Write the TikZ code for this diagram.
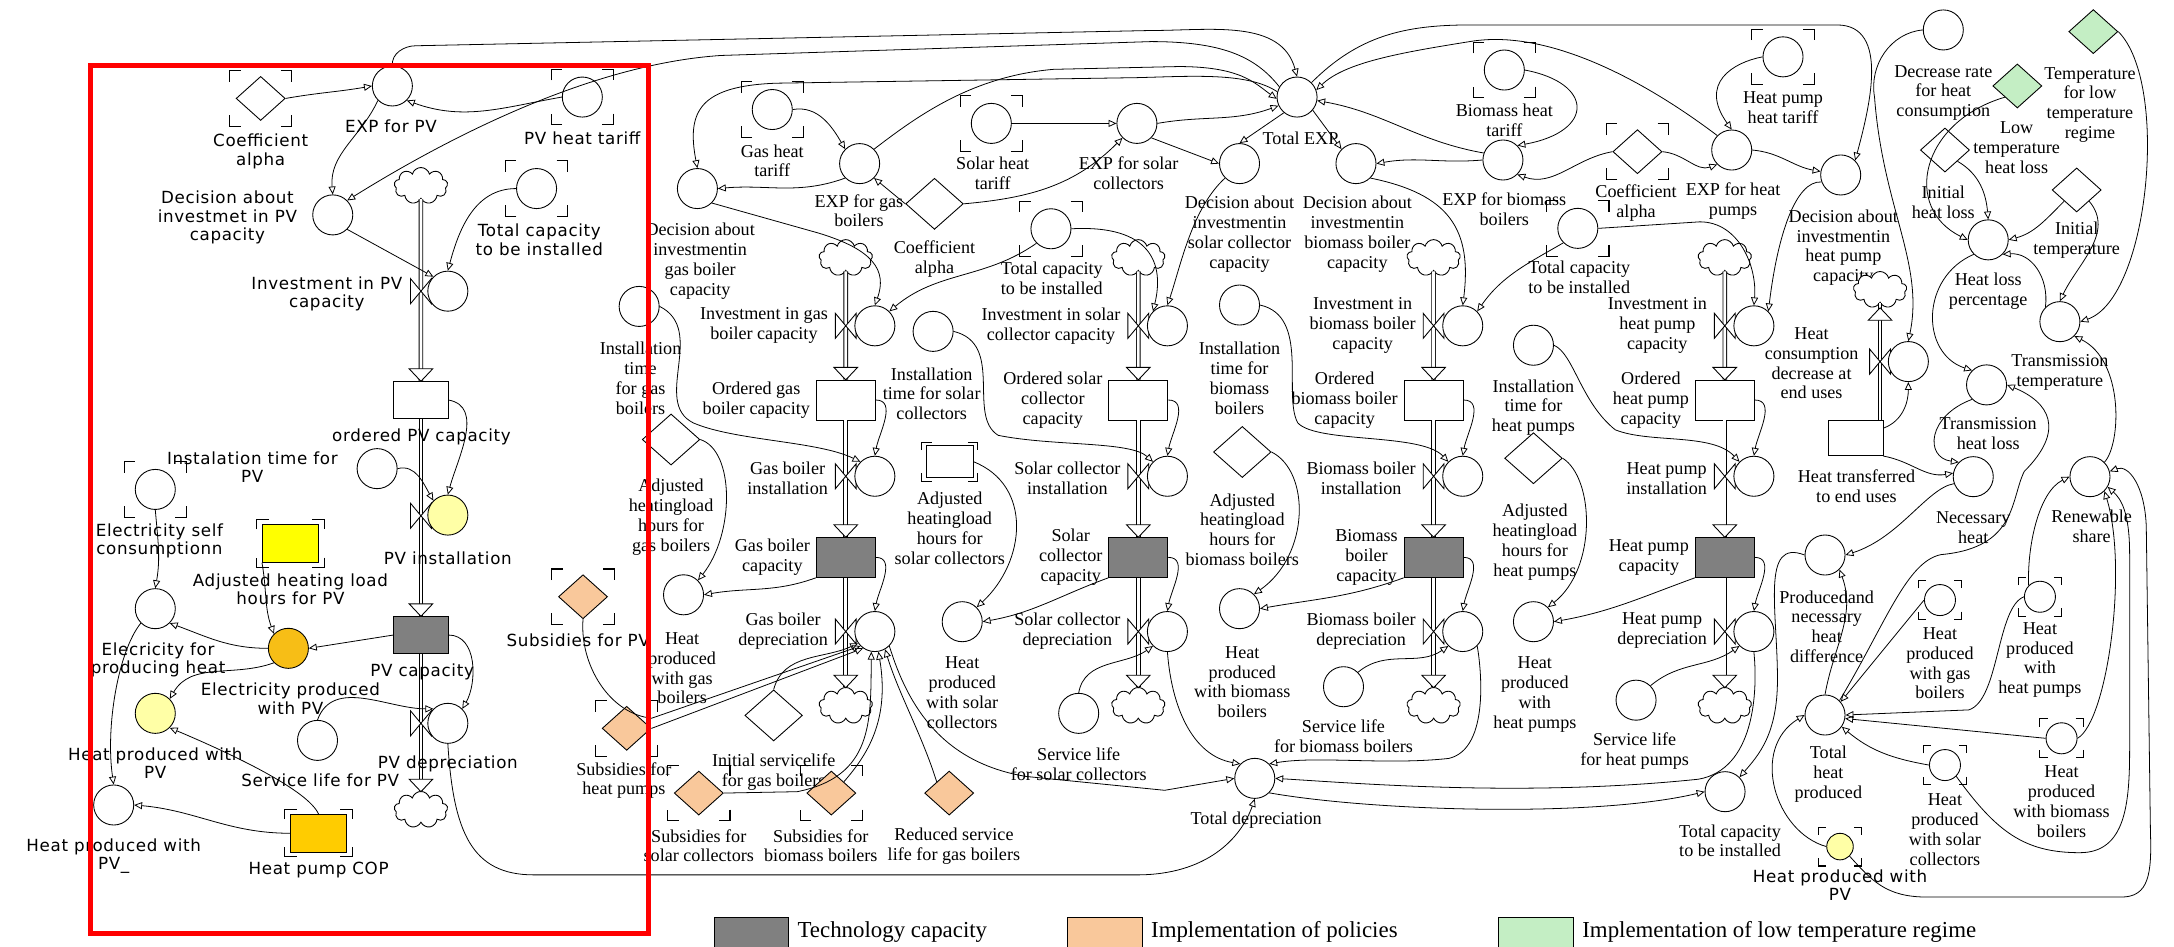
\documentclass[tikz,border=0pt]{standalone}
\usepackage{fontspec}
\setmainfont{Liberation Serif}
\newfontfamily\pvfam[LetterSpace=4]{DejaVu Sans}
\usetikzlibrary{shapes.geometric,shapes.symbols,arrows.meta,positioning}
\definecolor{capgray}{HTML}{808080}
\definecolor{polcol}{HTML}{F9C89B}
\definecolor{lowcol}{HTML}{C4EEC4}
\definecolor{yel}{HTML}{FFFF00}
\definecolor{orng}{HTML}{F7BE16}
\definecolor{copcol}{HTML}{FFCC00}
\definecolor{lyel}{HTML}{FFFFA6}
\definecolor{boxred}{HTML}{FF0000}
\newcommand\lblfont{\fontsize{10.3}{11.3}\selectfont}
\newcommand\pvlfont{\pvfam\fontsize{9.5}{10.6}\selectfont}
\tikzset{
  aux/.style={circle,draw,line width=0.5pt,minimum size=0.8cm,inner sep=0pt,fill=white},
  auxs/.style={aux,minimum size=0.62cm},
  lvl/.style={rectangle,draw,line width=0.5pt,minimum width=1.18cm,minimum height=0.8cm,inner sep=0pt,fill=white},
  lvlpv/.style={lvl,minimum width=1.08cm,minimum height=0.75cm},
  sq/.style={rectangle,draw,line width=0.5pt,minimum width=1.12cm,minimum height=0.75cm,inner sep=0pt},
  cst/.style={diamond,draw,line width=0.5pt,minimum width=1.15cm,minimum height=1.02cm,inner sep=0pt,fill=white},
  csts/.style={cst,minimum width=0.98cm,minimum height=0.88cm},
  src/.style={cloud,draw,line width=0.5pt,cloud puffs=9,cloud ignores aspect,minimum width=1.07cm,minimum height=0.73cm,inner sep=0pt,fill=white},
  lk/.style={-{Triangle[open,length=4.5pt,width=4pt]},line width=0.45pt},
  pipe/.style={double,double distance=1.6pt,line width=0.5pt},
  lbl/.style={font=\lblfont,align=center,inner sep=0.5pt},
  pvl/.style={font=\pvlfont,align=center,inner sep=0.5pt},
  brk/.pic={\draw[line width=0.6pt] (-22.5,-12)--(-22.5,-20)--(-14.5,-20) (14.5,-20)--(22.5,-20)--(22.5,-12)
    (22.5,12)--(22.5,20)--(14.5,20) (-14.5,20)--(-22.5,20)--(-22.5,12);},
  vlv/.pic={\draw[line width=0.5pt,fill=white] (-7.5,-9)--(7.5,9)--(7.5,-9)--(-7.5,9)--cycle;},
  flw/.pic={\draw[line width=0.5pt,fill=white] (-8.5,-9)--(8.5,-9)--(0,0)--cycle;}
}
\begin{document}
\begin{tikzpicture}[x=0.0277cm,y=-0.0277cm]
\useasboundingbox (0,0) rectangle (1568,683);
% PV part
\node[csts] (coefA) at (188,71) {}; \pic at (coefA) {brk};
\node[pvl] (tcoefA) at (188,109) {Coefficient\\alpha};
\node[aux] (expPV) at (283,62) {};
\node[pvl] (texpPV) at (282,91) {EXP for PV};
\node[aux] (pvTar) at (420,70) {}; \pic at (pvTar) {brk};
\node[pvl] (tpvTar) at (420,100) {PV heat tariff};
\node[aux] (decPV) at (240,155) {};
\node[pvl] (tdecPV) at (164,157) {Decision about\\investmet in PV\\capacity};
\node[src] (ctPV) at (303.6,134) {};
\node[aux] (totCapPV) at (387,136) {}; \pic at (totCapPV) {brk};
\node[pvl] (ttotCapPV) at (389,173) {Total capacity\\to be installed};
\node[lvlpv] (ordPV) at (303.6,288.5) {};
\node[lvlpv,fill=capgray] (capPV) at (303.6,458) {};
\node[src] (cbPV) at (303.6,584) {};
\draw[pipe] (ctPV.south) -- (ordPV.north);
\draw[pipe] (ordPV.south) -- (capPV.north);
\draw[pipe] (capPV.south) -- (cbPV.north);
\pic at (303.6,275) {flw}; \pic at (303.6,444.5) {flw}; \pic at (303.6,571) {flw};
\pic at (303.6,210) {vlv}; \pic at (303.6,372) {vlv}; \pic at (303.6,521.7) {vlv};
\node[aux] (invPV) at (323,210) {};
\node[pvl,anchor=east] (tinvPV) at (291,212) {Investment in PV\\capacity};
\node[pvl] (tordPV) at (304,315) {ordered PV capacity};
\node[aux] (itPV) at (272,338) {};
\node[pvl] (titPV) at (182,337) {Instalation time for\\PV};
\node[aux] (escPV) at (112,353) {}; \pic at (escPV) {brk};
\node[pvl] (tescPV) at (115,390) {Electricity self\\consumptionn};
\node[aux,fill=lyel] (insPV) at (323,371.5) {};
\node[pvl] (tinsPV) at (323,403) {PV installation};
\node[sq,fill=yel] (adjPV) at (209.5,392) {}; \pic[xscale=1.08,yscale=0.85] at (adjPV) {brk};
\node[pvl] (tadjPV) at (209.5,425) {Adjusted heating load\\hours for PV};
\node[aux] (efph) at (112,439) {};
\node[pvl] (tefph) at (114,476) {Elecricity for\\producing heat};
\node[aux,fill=orng] (elPV) at (208,467.6) {};
\node[pvl] (telPV) at (209.5,503.7) {Electricity produced\\with PV};
\node[pvl] (tcapPV) at (304.5,484.5) {PV capacity};
\node[aux,fill=lyel] (hpPV) at (112,514.5) {};
\node[pvl] (thpPV) at (112,550.5) {Heat produced with\\PV};
\node[aux] (depPV) at (323,521.7) {};
\node[pvl] (tdepPV) at (323,551) {PV depreciation};
\node[aux] (slPV) at (229,534) {};
\node[pvl] (tslPV) at (231,563) {Service life for PV};
\node[aux] (hpPVu) at (82,580.6) {};
\node[pvl] (thpPVu) at (82,617.5) {Heat produced with\\PV\_};
\node[sq,fill=copcol] (cop) at (229.8,601) {}; \pic[xscale=1.08,yscale=0.85] at (cop) {brk};
\node[pvl] (tcop) at (229.8,627.5) {Heat pump COP};
\node[csts,fill=polcol] (subsPV) at (420.5,430.4) {}; \pic at (subsPV) {brk};
\node[pvl] (tsubsPV) at (417,461.6) {Subsidies for PV};
\node[csts,fill=polcol] (subsHP) at (452,525.3) {}; \pic at (subsHP) {brk};
\node[lbl] (tsubsHP) at (450,563) {Subsidies for\\heat pumps};
% gas and solar part
\node[aux] (tarG) at (557,79) {}; \pic at (tarG) {brk};
\node[lbl] (ttarG) at (557,116) {Gas heat\\tariff};
\node[aux] (expG) at (620,118) {};
\node[lbl] (texpG) at (619.5,152) {EXP for gas\\boilers};
\node[aux] (decG) at (503,136) {};
\node[lbl] (tdecG) at (505,188.5) {Decision about\\investmentin\\gas boiler\\capacity};
\node[cst] (alphaA) at (674,147) {};
\node[lbl] (talphaA) at (674,187) {Coefficient\\alpha};
\node[aux] (tarS) at (715,89) {}; \pic at (tarS) {brk};
\node[lbl] (ttarS) at (716,125) {Solar heat\\tariff};
\node[aux] (expS) at (820,89) {};
\node[lbl] (texpS) at (814,125) {EXP for solar\\collectors};
\node[aux] (itG) at (461,221) {};
\node[lbl] (titG) at (462,273) {Installation\\time\\for gas\\boilers};
\node[aux] (totCapA) at (758,165) {}; \pic at (totCapA) {brk};
\node[lbl] (ttotCapA) at (758.6,201) {Total capacity\\to be installed};
\node[aux] (itS) at (673,239) {};
\node[lbl] (titS) at (672,284) {Installation\\time for solar\\collectors};
\node[cst] (adjG) at (484,317) {};
\node[lbl] (tadjG) at (484,373) {Adjusted\\heatingload\\hours for\\gas boilers};
\node[sq,fill=white,minimum width=0.93cm,minimum height=0.63cm] (adjS) at (685,333) {}; \pic[xscale=0.9,yscale=0.7] at (adjS) {brk};
\node[lbl] (tadjS) at (685,381) {Adjusted\\heatingload\\hours for\\solar collectors};
\node[aux] (hpG) at (493,429) {};
\node[lbl] (thpG) at (492,482) {Heat\\produced\\with gas\\boilers};
\node[aux] (hpS) at (694,448.4) {};
\node[lbl] (thpS) at (694,499.5) {Heat\\produced\\with solar\\collectors};
\node[cst] (islG) at (558,516) {};
\node[lbl] (tislG) at (558,557) {Initial servicelife\\for gas boilers};
\node[aux] (slS) at (778,514.5) {};
\node[lbl] (tslS) at (778,551) {Service life\\for solar collectors};
\node[csts,fill=polcol] (subsS) at (504,572) {}; \pic at (subsS) {brk};
\node[lbl] (tsubsS) at (504,610) {Subsidies for\\solar collectors};
\node[csts,fill=polcol] (subsB) at (599.6,572) {}; \pic at (subsB) {brk};
\node[lbl] (tsubsB) at (592,610) {Subsidies for\\biomass boilers};
\node[csts,fill=polcol] (redG) at (684.6,572) {};
\node[lbl] (tredG) at (688,610) {Reduced service\\life for gas boilers};
% biomass and heat pump part
\node[aux] (totEXP) at (935.5,70) {};
\node[lbl] (ttotEXP) at (938,100) {Total EXP};
\node[aux] (decS) at (894,118) {};
\node[lbl] (tdecS) at (894,169) {Decision about\\investmentin\\solar collector\\capacity};
\node[aux] (decB) at (978,118) {};
\node[lbl] (tdecB) at (979,169) {Decision about\\investmentin\\biomass boiler\\capacity};
\node[aux] (tarB) at (1085,50.5) {}; \pic at (tarB) {brk};
\node[lbl] (ttarB) at (1085,87) {Biomass heat\\tariff};
\node[aux] (expB) at (1084,115.4) {};
\node[lbl] (texpB) at (1085,151) {EXP for biomass\\boilers};
\node[csts] (alphaB) at (1181,109.4) {}; \pic at (alphaB) {brk};
\node[lbl] (talphaB) at (1180,146.6) {Coefficient\\alpha};
\node[aux] (totCapB) at (1138,164.7) {}; \pic at (totCapB) {brk};
\node[lbl] (ttotCapB) at (1139,200) {Total capacity\\to be installed};
\node[aux] (itB) at (894,220) {};
\node[lbl] (titB) at (894,273) {Installation\\time for\\biomass\\boilers};
\node[aux] (itH) at (1106,249) {};
\node[lbl] (titH) at (1106,294) {Installation\\time for\\heat pumps};
\node[cst] (adjB) at (896,326) {};
\node[lbl] (tadjB) at (896,382) {Adjusted\\heatingload\\hours for\\biomass boilers};
\node[cst] (adjH) at (1106,330.5) {};
\node[lbl] (tadjH) at (1107,391) {Adjusted\\heatingload\\hours for\\heat pumps};
\node[aux] (hpB) at (894,439) {};
\node[lbl] (thpB) at (896,492) {Heat\\produced\\with biomass\\boilers};
\node[aux] (hpH) at (1106,448.4) {};
\node[lbl] (thpH) at (1107,501) {Heat\\produced\\with\\heat pumps};
\node[aux] (slB) at (969,495.3) {};
\node[lbl] (tslB) at (969,531) {Service life\\for biomass boilers};
\node[aux] (slH) at (1180,505) {};
\node[lbl] (tslH) at (1179,542) {Service life\\for heat pumps};
\node[aux] (totDep) at (905,561.4) {};
\node[lbl] (ttotDep) at (906,591.4) {Total depreciation};
% stock and flow columns
\foreach \c/\x/\h/\la/\lb/\lc/\ld/\le in {
  gas/610/hpG/{Investment in gas\\boiler capacity}/{Ordered gas\\boiler capacity}/{Gas boiler\\installation}/{Gas boiler\\capacity}/{Gas boiler\\depreciation},
  sol/821/hpS/{Investment in solar\\collector capacity}/{Ordered solar\\collector\\capacity}/{Solar collector\\installation}/{Solar\\collector\\capacity}/{Solar collector\\depreciation},
  bio/1034/hpB/{Investment in\\biomass boiler\\capacity}/{Ordered\\biomass boiler\\capacity}/{Biomass boiler\\installation}/{Biomass\\boiler\\capacity}/{Biomass boiler\\depreciation},
  hp/1244/hpH/{Investment in\\heat pump\\capacity}/{Ordered\\heat pump\\capacity}/{Heat pump\\installation}/{Heat pump\\capacity}/{Heat pump\\depreciation}}{
  \node[src] (ct-\c) at (\x,186) {};
  \node[lvl] (ord-\c) at (\x,288.5) {};
  \node[lvl,fill=capgray] (cap-\c) at (\x,402) {};
  \node[src] (cb-\c) at (\x,509) {};
  \draw[pipe] (ct-\c.south) -- (ord-\c.north);
  \draw[pipe] (ord-\c.south) -- (cap-\c.north);
  \draw[pipe] (cap-\c.south) -- (cb-\c.north);
  \pic at (\x,274) {flw}; \pic at (\x,387.5) {flw}; \pic at (\x,496) {flw};
  \pic at (\x,235) {vlv}; \pic at (\x,343.5) {vlv}; \pic at (\x,455.5) {vlv};
  \node[aux] (inv-\c) at (\x+21,235) {};
  \node[aux] (ins-\c) at (\x+21,343.5) {};
  \node[aux] (dep-\c) at (\x+21,455.5) {};
  \node[lbl,anchor=east] (t-inv-\c) at (\x-12,235) {\la};
  \node[lbl,anchor=east] (t-ord-\c) at (\x-25,288.5) {\lb};
  \node[lbl,anchor=east] (t-ins-\c) at (\x-12,345) {\lc};
  \node[lbl,anchor=east] (t-cap-\c) at (\x-25,402) {\ld};
  \node[lbl,anchor=east] (t-dep-\c) at (\x-12,455) {\le};
  \draw[lk] (ord-\c.east) to[out=0,in=80] (ins-\c.north);
  \draw[lk] (cap-\c.east) to[out=0,in=80] (dep-\c.north);
  \draw[lk] (cap-\c.south west) to[out=200,in=10] (\h.east);
}
% end uses part
\node[aux] (tarH) at (1286,41) {}; \pic at (tarH) {brk};
\node[lbl] (ttarH) at (1286,77.5) {Heat pump\\heat tariff};
\node[aux] (expH) at (1249,108.2) {};
\node[lbl] (texpH) at (1250,145) {EXP for heat\\pumps};
\node[aux] (decH) at (1327.6,126.2) {};
\node[lbl] (tdecH) at (1329.5,178.6) {Decision about\\investmentin\\heat pump\\capacity};
\node[aux] (decRate) at (1401.6,21.6) {};
\node[lbl] (tdecRate) at (1401.6,67) {Decrease rate\\for heat\\consumption};
\node[csts,fill=lowcol] (tLow) at (1509.8,22.8) {};
\node[lbl] (ttLow) at (1507.4,75.7) {Temperature\\for low\\temperature\\regime};
\node[csts,fill=lowcol] (lowHL) at (1455,62) {};
\node[lbl] (tlowHL) at (1454.5,106.6) {Low\\temperature\\heat loss};
\node[csts] (initHL) at (1402.8,108.2) {};
\node[lbl] (tinitHL) at (1401.6,146) {Initial\\heat loss};
\node[csts] (initT) at (1497.8,137) {};
\node[lbl] (tinitT) at (1497.8,173) {Initial\\temperature};
\node[aux] (hlp) at (1434,173) {};
\node[lbl] (thlp) at (1434,209.7) {Heat loss\\percentage};
\node[aux] (tt) at (1485.7,232) {};
\node[lbl] (ttt) at (1485.7,268.6) {Transmission\\temperature};
\node[src] (ctHC) at (1356,209) {};
\node[lvl,minimum width=1.08cm,minimum height=0.7cm] (ht) at (1338.6,316) {};
\draw[pipe] (ht.north -| ctHC.south) -- (ctHC.south);
\pic[rotate=180] at (1356,222) {flw};
\pic at (1356,260.8) {vlv};
\node[aux] (hcd) at (1376.4,260.8) {};
\node[lbl] (thcd) at (1306.6,262) {Heat\\consumption\\decrease at\\end uses};
\node[lbl] (tht) at (1339,350.4) {Heat transferred\\to end uses};
\node[aux] (thl) at (1432.8,277.6) {};
\node[lbl] (tthl) at (1434,313) {Transmission\\heat loss};
\node[aux] (nh) at (1423.2,343.8) {};
\node[lbl] (tnh) at (1423.2,380.5) {Necessary\\heat};
\node[aux] (rs) at (1507.4,343.8) {};
\node[lbl] (trs) at (1508.6,379.3) {Renewable\\share};
\node[aux] (pnhd) at (1316.3,400.3) {};
\node[lbl] (tpnhd) at (1317.5,452) {Producedand\\necessary\\heat\\difference};
\node[auxs] (rG) at (1399.2,432.8) {}; \pic[scale=0.7] at (rG) {brk};
\node[lbl] (trG) at (1399.2,478.4) {Heat\\produced\\with gas\\boilers};
\node[auxs] (rH) at (1471.3,430.4) {}; \pic[scale=0.7] at (rH) {brk};
\node[lbl] (trH) at (1471.3,476) {Heat\\produced\\with\\heat pumps};
\node[aux] (thp) at (1316.3,515.7) {};
\node[lbl] (tthp) at (1318.7,558.4) {Total\\heat\\produced};
\node[auxs] (rB) at (1486.9,532.5) {}; \pic[scale=0.7] at (rB) {brk};
\node[lbl] (trB) at (1486.9,578) {Heat\\produced\\with biomass\\boilers};
\node[auxs] (rS) at (1402.8,551.8) {}; \pic[scale=0.7] at (rS) {brk};
\node[lbl] (trS) at (1402.8,598.6) {Heat\\produced\\with solar\\collectors};
\node[aux] (totCapC) at (1244.2,571) {};
\node[lbl] (ttotCapC) at (1247.8,606.4) {Total capacity\\to be installed};
\node[auxs,fill=lyel,minimum size=0.53cm] (rPV) at (1327.1,610.6) {}; \pic[scale=0.7] at (rPV) {brk};
\node[pvl] (trPV) at (1327.1,638.3) {Heat produced with\\PV};
% links PV
\draw[lk] (coefA.east) to[out=10,in=190] (expPV.west);
\draw[lk] (pvTar.west) to[out=190,in=-20] (expPV.south east);
\draw[lk] (expPV.south west) to[out=245,in=95] (decPV.north);
\draw[lk] (decPV.south east) -- (invPV.north west);
\draw[lk] (totCapPV.west) to[out=180,in=75] (invPV.north);
\draw[lk] (expPV.north) to[out=95,in=180] (300,33) -- (830,22) to[out=0,in=105] (totEXP.north);
\draw[lk] (totEXP.150) .. controls (905,40) and (880,30) .. (830,30) -- (520,40) .. controls (430,46) and (330,95) .. (decPV.north east);
\draw[lk] (ordPV.east) to[out=-10,in=75] (insPV.north);
\draw[lk] (itPV.east) to[out=15,in=120] (insPV.north west);
\draw[lk] (capPV.west) -- (elPV.east);
\draw[lk] (capPV.east) to[out=0,in=60] (depPV.north east);
\draw[lk] (slPV.north) to[out=70,in=180] (depPV.north west);
\draw[lk] (adjPV.south west) to[out=-80,in=110] (elPV.north west);
\draw[lk] (elPV.west) to[out=180,in=-20] (efph.south east);
\draw[lk] (elPV.south west) to[out=200,in=60] (hpPV.north east);
\draw[lk] (escPV.south) to[out=-85,in=80] (efph.north);
\draw[lk] (cop.north) .. controls (222,570) and (170,545) .. (hpPV.south east);
\draw[lk] (cop.west) to[out=180,in=-5] (hpPVu.east);
\draw[lk] (efph.south west) .. controls (85,470) and (76,525) .. (hpPVu.north);
\draw[lk] (depPV.south) .. controls (327,600) and (340,631) .. (385,631) -- (820,631) .. controls (870,631) and (895,605) .. (totDep.south);
\draw[lk] (subsPV.south) .. controls (418,480) and (440,515) .. (470,518) -- (dep-gas.225);
\draw[lk] (subsHP.east) -- (dep-gas.235);
% links gas and solar
\draw[lk] (tarG.east) to[out=10,in=120] (expG.north west);
\draw[lk] (expG.south west) to[out=200,in=5] (decG.east);
\draw[lk] (alphaA.west) -- (expG.south east);
\draw[lk] (alphaA.east) to[out=5,in=225] (expS.south west);
\draw[lk] (tarS.east) -- (expS.west);
\draw[lk] (expG.north east) .. controls (660,85) and (700,55) .. (760,50) -- (850,48) .. controls (895,48) and (905,60) .. (totEXP.185);
\draw[lk] (totEXP.165) .. controls (900,52) and (860,55) .. (820,56) -- (560,60) .. controls (505,62) and (495,80) .. (decG.north);
\draw[lk] (decG.south east) -- (590,168) .. controls (630,180) and (640,195) .. (inv-gas.north);
\draw[lk] (totCapA.south west) to[out=215,in=40] (inv-gas.north east);
\draw[lk] (totCapA.east) .. controls (830,162) and (840,190) .. (inv-sol.north west);
\draw[lk] (decS.south west) .. controls (860,150) and (852,190) .. (inv-sol.north);
\draw[lk] (expS.east) to[out=10,in=200] (totEXP.205);
\draw[lk] (expS.south east) -- (decS.west);
\draw[lk] (totEXP.230) -- (decS.north);
\draw[lk] (adjG.east) .. controls (530,325) and (530,385) .. (hpG.north east);
\draw[lk] (adjS.east) .. controls (745,350) and (740,405) .. (hpS.north east);
\draw[lk] (itG.east) .. controls (510,238) and (470,290) .. (500,305) .. controls (530,318) and (590,318) .. (ins-gas.north west);
\draw[lk] (itS.east) .. controls (725,248) and (697,300) .. (720,314) .. controls (760,322) and (815,318) .. (ins-sol.north west);
\draw[lk] (islG.north) to[out=75,in=205] (dep-gas.215);
\draw[lk] (subsS.east) -- (575,571) .. controls (630,560) and (628,520) .. (dep-gas.260);
\draw[lk] (subsB.north east) .. controls (625,545) and (642,520) .. (dep-gas.280);
\draw[lk] (redG.north west) .. controls (665,530) and (648,500) .. (dep-gas.-60);
\draw[lk] (slS.north) to[out=80,in=215] (dep-sol.south west);
\draw[lk] (dep-gas.south east) .. controls (655,510) and (680,550) .. (740,560) -- (840,570) -- (totDep.west);
\draw[lk] (dep-sol.south) .. controls (845,510) and (860,545) .. (totDep.north west);
% links biomass and heat pump
\draw[lk] (totEXP.-40) -- (decB.north west);
\draw[lk] (expB.160) to[out=170,in=-10] (totEXP.-10);
\draw[lk] (expB.west) to[out=185,in=10] (decB.east);
\draw[lk] (tarB.east) .. controls (1150,60) and (1150,95) .. (expB.north east);
\draw[lk] (expH.north west) .. controls (1215,80) and (1130,18) .. (1060,30) .. controls (1010,38) and (970,45) .. (totEXP.20);
\draw[lk] (alphaB.west) to[out=190,in=-20] (expB.south east);
\draw[lk] (alphaB.east) to[out=-5,in=200] (expH.south west);
\draw[lk] (totCapB.south west) to[out=210,in=55] (inv-bio.north east);
\draw[lk] (decB.south east) .. controls (1045,140) and (1062,165) .. (inv-bio.north);
\draw[lk] (totCapB.east) -- (1226,160) to[out=0,in=85] (inv-hp.north);
\draw[lk] (decH.200) .. controls (1295,130) and (1282,170) .. (inv-hp.north east);
\draw[lk] (tarH.west) .. controls (1250,45) and (1225,60) .. (expH.north);
\draw[lk] (expH.east) to[out=-5,in=170] (decH.170);
\draw[lk] (totEXP.north east) to[out=45,in=180] (1060,18) -- (1325,18) to[out=0,in=75] (decH.north east);
\draw[lk] (adjB.east) .. controls (945,340) and (945,400) .. (hpB.north east);
\draw[lk] (adjH.east) .. controls (1150,345) and (1152,410) .. (hpH.north east);
\draw[lk] (itB.east) .. controls (945,228) and (925,285) .. (936,305) .. controls (950,320) and (1025,312) .. (ins-bio.north west);
\draw[lk] (itH.east) .. controls (1135,255) and (1140,290) .. (1165,310) .. controls (1190,320) and (1235,312) .. (ins-hp.north west);
\draw[lk] (slB.north east) to[out=40,in=215] (dep-bio.south west);
\draw[lk] (slH.north east) to[out=40,in=215] (dep-hp.south west);
\draw[lk] (dep-bio.south east) .. controls (1068,480) and (1075,540) .. (1045,547) .. controls (1000,552) and (950,545) .. (totDep.north east);
\draw[lk] (dep-hp.south) .. controls (1268,500) and (1265,555) .. (1225,562) .. controls (1100,575) and (980,565) .. (totDep.east);
\draw[lk] (totDep.south east) .. controls (990,585) and (1150,590) .. (totCapC.west);
\draw[lk] (pnhd.west) .. controls (1270,388) and (1282,440) .. (1282,490) .. controls (1282,530) and (1268,545) .. (totCapC.north east);
% links end uses
\draw[lk] (decRate.west) to[out=185,in=100] (1352,70) .. controls (1358,150) and (1388,190) .. (hcd.north);
\draw[lk] (ht.20) to[out=20,in=-90] (hcd.south);
\draw[lk] (ht.south east) to[out=-10,in=190] (nh.170);
\draw[lk] (thl.south west) .. controls (1390,300) and (1388,330) .. (nh.north west);
\draw[lk] (hlp.south west) .. controls (1385,200) and (1385,255) .. (thl.north west);
\draw[lk] (lowHL.south west) .. controls (1385,88) and (1372,150) .. (hlp.west);
\draw[lk] (initHL.south east) to[out=-30,in=95] (hlp.north);
\draw[lk] (initT.south west) to[out=225,in=15] (hlp.east);
\draw[lk] (tt.north west) .. controls (1478,200) and (1465,182) .. (hlp.south east);
\draw[lk] (initT.south east) to[out=-50,in=65] (tt.north);
\draw[lk] (tLow.east) .. controls (1565,60) and (1550,215) .. (tt.east);
\draw[lk] (rs.north east) .. controls (1530,320) and (1532,260) .. (tt.south east);
\draw[lk] (thp.north east) .. controls (1360,450) and (1375,405) .. (1400,400) .. controls (1455,395) and (1450,360) .. (1460,340) .. controls (1490,310) and (1478,290) .. (thl.east);
\draw[lk] (nh.200) .. controls (1390,352) and (1370,388) .. (pnhd.east);
\draw[lk] (thp.north) to[out=80,in=-70] (pnhd.south east);
\draw[lk] (rG.west) -- (thp.40);
\draw[lk] (rH.west) .. controls (1440,438) and (1442,505) .. (1420,512) -- (thp.east);
\draw[lk] (rH.north west) .. controls (1462,395) and (1470,355) .. (rs.west);
\draw[lk] (rB.west) -- (thp.-10);
\draw[lk] (rB.east) .. controls (1520,520) and (1535,410) .. (rs.south east);
\draw[lk] (rS.west) to[out=170,in=-40] (thp.-35);
\draw[lk] (rS.south east) .. controls (1440,600) and (1460,615) .. (1500,615) .. controls (1533,615) and (1536,580) .. (1536,540) -- (1536,400) .. controls (1536,370) and (1530,360) .. (rs.-30);
\draw[lk] (rPV.west) .. controls (1280,600) and (1262,540) .. (thp.west);
\draw[lk] (rPV.south east) .. controls (1350,635) and (1360,647) .. (1390,647) -- (1530,647) .. controls (1550,647) and (1552,630) .. (1551,600) -- (1548,380) .. controls (1547,350) and (1535,335) .. (rs.15);
% legend
\draw[line width=0.5pt,fill=capgray] (515,662) rectangle (569,690);
\node[anchor=west,font=\fontsize{13}{15}\selectfont,inner sep=0pt] (lgA) at (575,672) {Technology capacity};
\draw[line width=0.5pt,fill=polcol] (770,662) rectangle (824,690);
\node[anchor=west,font=\fontsize{13}{15}\selectfont,inner sep=0pt] (lgB) at (830,672) {Implementation of policies};
\draw[line width=0.5pt,fill=lowcol] (1081,662) rectangle (1135,690);
\node[anchor=west,font=\fontsize{13}{15}\selectfont,inner sep=0pt] (lgC) at (1141,672) {Implementation of low temperature regime};
% frame
\draw[boxred,line width=2.8pt] (65.3,47) rectangle (467.5,673);
\end{tikzpicture}
\end{document}
